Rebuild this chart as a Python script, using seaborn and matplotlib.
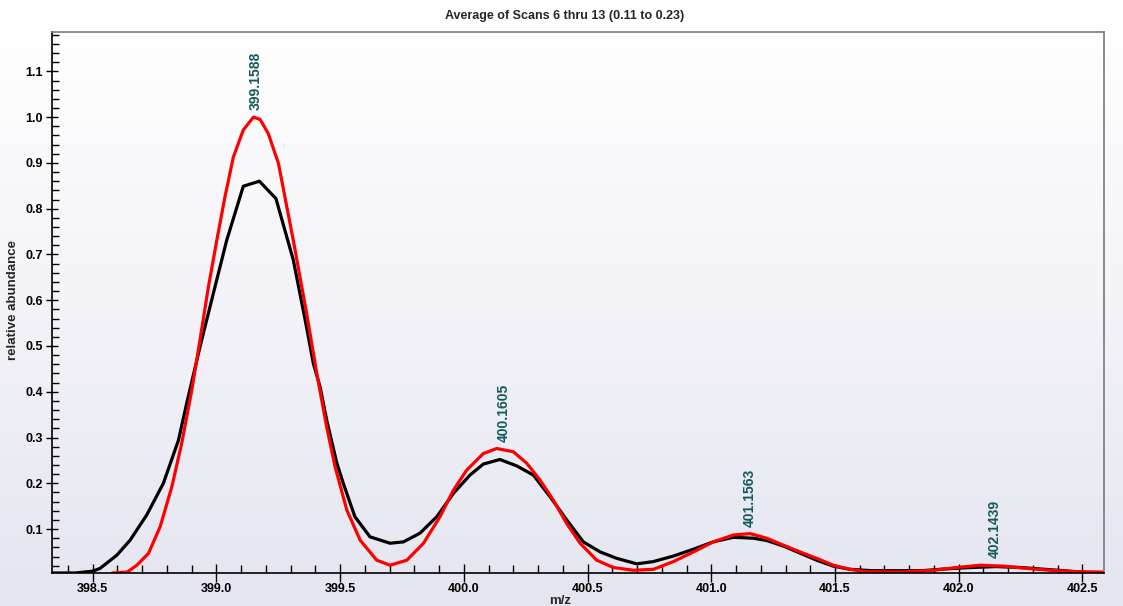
import matplotlib
matplotlib.use("Agg")
import matplotlib.pyplot as plt
import numpy as np
import seaborn as sns
from matplotlib.ticker import MultipleLocator, FormatStrFormatter

black_mz = [398.336, 398.43, 398.50, 398.53, 398.598, 398.652, 398.719, 398.786,
            398.847, 398.88, 398.934, 398.988, 399.042, 399.109, 399.174, 399.241,
            399.311, 399.359, 399.392, 399.419, 399.446, 399.487, 399.513, 399.56,
            399.621, 399.702, 399.756, 399.823, 399.891, 399.958, 400.025, 400.079,
            400.146, 400.214, 400.281, 400.348, 400.416, 400.483, 400.551, 400.618,
            400.699, 400.766, 400.847, 400.928, 401.008, 401.089, 401.17, 401.224,
            401.291, 401.426, 401.493, 401.561, 401.65, 401.85, 401.95, 402.05,
            402.15, 402.25, 402.35, 402.45, 402.52]
black_ab = [0.004, 0.004, 0.008, 0.014, 0.043, 0.076, 0.131, 0.200,
            0.294, 0.374, 0.498, 0.615, 0.731, 0.849, 0.860, 0.822,
            0.688, 0.557, 0.462, 0.411, 0.338, 0.244, 0.200, 0.127,
            0.083, 0.069, 0.072, 0.091, 0.127, 0.178, 0.218, 0.242,
            0.252, 0.238, 0.218, 0.171, 0.120, 0.072, 0.050, 0.036,
            0.024, 0.029, 0.041, 0.056, 0.072, 0.082, 0.080, 0.075,
            0.063, 0.032, 0.019, 0.012, 0.009, 0.009, 0.013, 0.016,
            0.018, 0.016, 0.012, 0.008, 0.005]

# theoretical isotope pattern (red)
red_mz = [398.58, 398.64, 398.679, 398.726, 398.773, 398.82, 398.86, 398.901,
          398.934, 398.968, 399.002, 399.035, 399.069, 399.109, 399.15, 399.177,
          399.21, 399.251, 399.311, 399.365, 399.406, 399.446, 399.48, 399.527,
          399.581, 399.648, 399.702, 399.77, 399.837, 399.904, 399.958, 400.012,
          400.079, 400.133, 400.2, 400.254, 400.308, 400.362, 400.416, 400.47,
          400.537, 400.604, 400.685, 400.766, 400.847, 400.928, 401.008, 401.089,
          401.157, 401.224, 401.291, 401.359, 401.426, 401.493, 401.561, 401.628,
          401.763, 401.897, 401.992, 402.086, 402.18, 402.275, 402.369, 402.463,
          402.587]
red_ab = [0.004, 0.006, 0.021, 0.047, 0.105, 0.192, 0.287, 0.404,
          0.513, 0.629, 0.731, 0.826, 0.913, 0.972, 1.000, 0.995,
          0.964, 0.899, 0.731, 0.571, 0.440, 0.323, 0.236, 0.142,
          0.076, 0.032, 0.021, 0.032, 0.069, 0.127, 0.185, 0.229,
          0.265, 0.276, 0.269, 0.244, 0.207, 0.163, 0.112, 0.069,
          0.032, 0.016, 0.010, 0.012, 0.029, 0.050, 0.072, 0.087,
          0.090, 0.080, 0.065, 0.050, 0.036, 0.021, 0.012, 0.007,
          0.006, 0.010, 0.016, 0.021, 0.019, 0.014, 0.010, 0.007,
          0.006]

peak_labels = ["399.1588", "400.1605", "401.1563", "402.1439"]
peak_height = [1.000, 0.276, 0.090, 0.021]

sns.set_style("white")
plt.rcParams["font.family"] = ["Liberation Sans", "DejaVu Sans"]

fig = plt.figure(figsize=(11.23, 6.06), dpi=100)

# soft white-to-lavender background
H = 606
rows = np.arange(H)
t = np.clip((rows - 32) / (H - 32), 0, 1)[:, None]
top_c = np.array([1.0, 1.0, 1.0])
bot_c = np.array([229, 229, 240]) / 255
grad = (top_c * (1 - t) + bot_c * t)[:, None, :].repeat(2, axis=1)
bg = fig.add_axes([0, 0, 1, 1], zorder=-1)
bg.imshow(grad, aspect="auto", extent=[0, 1, 0, 1])
bg.axis("off")

ax = fig.add_axes([52 / 1123, 33 / 606, (1104 - 52) / 1123, (573 - 32) / 606])
ax.patch.set_alpha(0)

sns.lineplot(x=black_mz, y=black_ab, ax=ax, color="black", lw=2.3,
             estimator=None, sort=False, solid_joinstyle="round")
sns.lineplot(x=red_mz, y=red_ab, ax=ax, color="#ff0000", lw=2.3,
             estimator=None, sort=False, solid_joinstyle="round")

for lab, h in zip(peak_labels, peak_height):
    ax.annotate(lab, xy=(float(lab), h), xytext=(0, 5), textcoords="offset points",
                rotation=90, ha="center", va="bottom", fontsize=10,
                fontweight="bold", color="#145a5a")

ax.set_xlim(398.336, 402.587)
ax.set_ylim(0.004, 1.186)

ax.xaxis.set_major_locator(MultipleLocator(0.5))
ax.xaxis.set_minor_locator(MultipleLocator(0.1))
ax.yaxis.set_major_locator(MultipleLocator(0.1))
ax.yaxis.set_minor_locator(MultipleLocator(0.02))
ax.xaxis.set_major_formatter(FormatStrFormatter("%.1f"))
ax.yaxis.set_major_formatter(FormatStrFormatter("%.1f"))
ax.set_yticks([v / 10 for v in range(1, 12)])

ax.tick_params(axis="x", which="major", direction="inout", length=13, width=1,
               labelsize=9, pad=1)
ax.tick_params(axis="x", which="minor", direction="in", length=6, width=1)
ax.tick_params(axis="y", which="major", direction="inout", length=9, width=1,
               labelsize=9, pad=2)
ax.tick_params(axis="y", which="minor", direction="in", length=5, width=1)
ax.tick_params(axis="both", which="both", bottom=True, left=True, top=False,
               right=False, colors="black")
for lab in ax.get_xticklabels() + ax.get_yticklabels():
    lab.set_fontweight("bold")

for side in ["left", "bottom"]:
    ax.spines[side].set_color("black")
    ax.spines[side].set_linewidth(1.2)
for side in ["top", "right"]:
    ax.spines[side].set_color("#7a7a7a")
    ax.spines[side].set_linewidth(1.2)

ax.set_xlabel("")
ax.set_ylabel("")
fig.text(565 / 1123, 1 - 16 / 606, "Average of Scans 6 thru 13 (0.11 to 0.23)",
         ha="center", va="center", fontsize=9, fontweight="bold")
fig.text(13 / 1123, 1 - 300 / 606, "relative abundance", rotation=90,
         ha="center", va="center", fontsize=9.5, fontweight="bold")
fig.text(560 / 1123, 1 - 601 / 606, "m/z", ha="center", va="center",
         fontsize=9.5, fontweight="bold")

fig.savefig("out.png", dpi=100)
